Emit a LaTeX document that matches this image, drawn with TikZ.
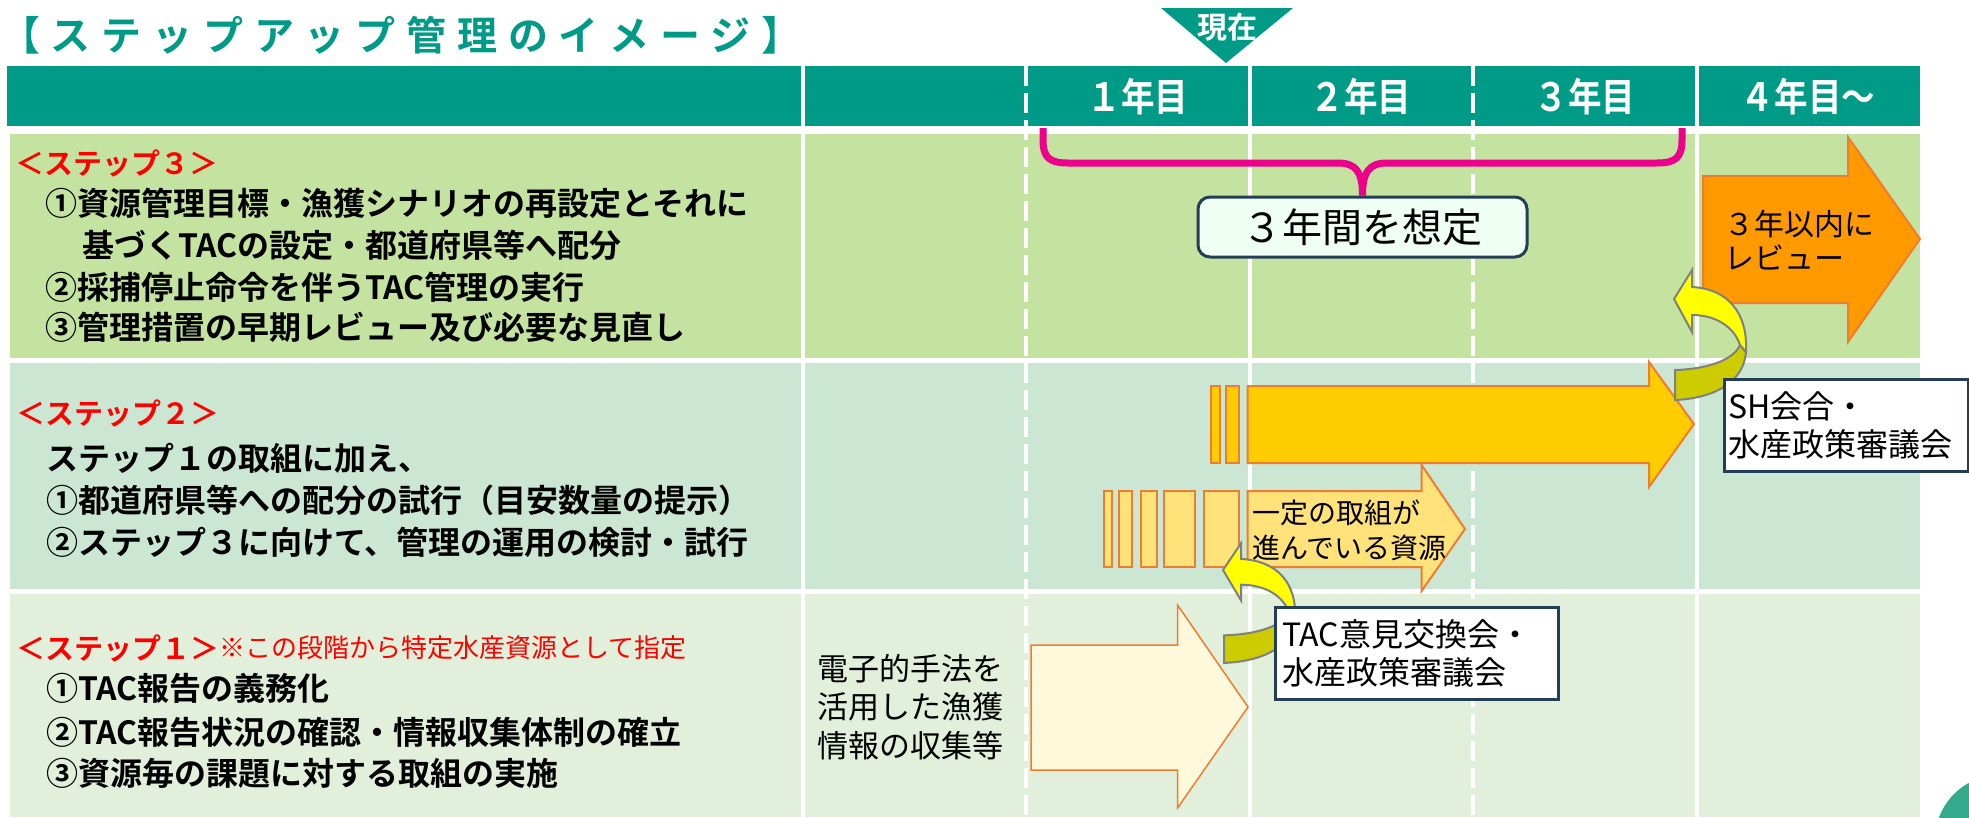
\documentclass[tikz,border=0pt]{standalone}
\usepackage{fontspec}
\setmainfont{Noto Sans CJK JP}[BoldFont={Noto Sans CJK JP Bold}]
\newfontfamily\narrowjp{Noto Sans CJK JP Bold}[FakeStretch=0.86]
\usetikzlibrary{positioning}

\definecolor{headteal}{RGB}{0,155,135}
\definecolor{stepthree}{RGB}{197,227,160}
\definecolor{steptwo}{RGB}{203,231,212}
\definecolor{stepone}{RGB}{226,239,218}
\definecolor{arrowline}{RGB}{237,125,49}
\definecolor{reviewfill}{RGB}{255,153,0}
\definecolor{mainfill}{RGB}{255,204,0}
\definecolor{partfill}{RGB}{255,226,122}
\definecolor{creamfill}{RGB}{255,249,219}
\definecolor{bentolive}{RGB}{204,204,0}
\definecolor{bentyellow}{RGB}{255,255,0}
\definecolor{bentline}{RGB}{128,128,128}
\definecolor{boxline}{RGB}{36,62,88}
\definecolor{spanfill}{RGB}{240,255,244}
\definecolor{markteal}{RGB}{52,170,140}

\tikzset{
  colline/.style={white, line width=4pt},
  coldash/.style={white, line width=3.5pt, dash pattern=on 20pt off 7pt},
  yearlabel/.style={text=white, font=\narrowjp\fontsize{39}{44}\selectfont},
  steplabel/.style={anchor=west, inner sep=0pt, text=red,
    font=\bfseries\fontsize{29}{34}\selectfont},
  stepitem/.style={anchor=west, inner sep=0pt,
    font=\bfseries\fontsize{32}{38}\selectfont},
  plaintext/.style={anchor=west, inner sep=0pt, align=left},
  blockarrow/.style={draw=arrowline, line width=2pt, line join=miter},
  infobox/.style={draw=boxline, fill=white, line width=3pt, anchor=north west,
    inner ysep=0pt, align=left, font=\fontsize{32}{38}\selectfont},
  bentarrow/.pic={
    \path[fill=bentolive, draw=bentline, line width=2pt]
      (66,46) -- (72,53) .. controls (70,80) and (45,99) .. (1,101)
      -- (1,71) .. controls (36,70) and (60,60) .. (66,46) -- cycle;
    \path[fill=bentyellow, draw=bentline, line width=2pt]
      (0,0) -- (18,-29) -- (18,-12) .. controls (55,-10) and (74,15) .. (72,53)
      -- (66,46) .. controls (60,28) and (42,16) .. (18,16) -- (18,33) -- cycle;
  }
}

\begin{document}
\begin{tikzpicture}[x=1pt,y=-1pt]
  \useasboundingbox (0,0) rectangle (1969,817);
  \clip (0,0) rectangle (1969,817);

  % title
  \node[anchor=west, inner sep=0pt, text=headteal,
    font=\bfseries\fontsize{40}{46}\selectfont\addfontfeature{LetterSpace=27}]
    (title) at (0,35) {【ステップアップ管理のイメージ】};

  % header bar and rows
  \fill[headteal] (7,66) rectangle (1920,126);
  \fill[stepthree] (10,134) rectangle (1920,358);
  \fill[steptwo] (10,363) rectangle (1920,589);
  \fill[stepone] (10,594) rectangle (1920,817);
  \foreach \x in {803,1250,1697}
    \draw[colline] (\x,66) -- (\x,817);
  \foreach \x in {1026,1473}
    \draw[coldash] (\x,66) -- (\x,817);
  \fill[markteal] (2000,840) circle (65);

  % now marker
  \fill[headteal] (1161,8) -- (1293,8) -- (1226,63) -- cycle;
  \node[text=white, font=\bfseries\fontsize{30}{34}\selectfont] (now) at (1227,27) {現在};

  % years
  \path
    (1138,97) node[yearlabel] (year1) {１年目}
    (1361,97) node[yearlabel] (year2) {２年目}
    (1585,97) node[yearlabel] (year3) {３年目}
    (1808,97) node[yearlabel] (year4) {４年目～};

  % step 3
  \node[steplabel] (s3label) at (15,163) {＜ステップ３＞};
  \path
    (45,203) node[stepitem] (s3a) {①資源管理目標・漁獲シナリオの再設定とそれに}
    (82,245) node[stepitem] (s3b) {基づくTACの設定・都道府県等へ配分}
    (45,287) node[stepitem] (s3c) {②採捕停止命令を伴うTAC管理の実行}
    (45,327) node[stepitem] (s3d) {③管理措置の早期レビュー及び必要な見直し};

  % step 2
  \node[steplabel] (s2label) at (16,413) {＜ステップ２＞};
  \path
    (46,458) node[stepitem] (s2a) {ステップ１の取組に加え、}
    (46,500) node[stepitem] (s2b) {①都道府県等への配分の試行（目安数量の提示）}
    (46,542) node[stepitem] (s2c) {②ステップ３に向けて、管理の運用の検討・試行};

  % step 1
  \node[steplabel] (s1label) at (16,648) {＜ステップ１＞};
  \node[plaintext, text=red, font=\fontsize{26}{30}\selectfont, right=0pt of s1label]
    (s1note) {※この段階から特定水産資源として指定};
  \path
    (46,688) node[stepitem] (s1a) {①TAC報告の義務化}
    (46,732) node[stepitem] (s1b) {②TAC報告状況の確認・情報収集体制の確立}
    (46,773) node[stepitem] (s1c) {③資源毎の課題に対する取組の実施};
  \node[plaintext, font=\fontsize{31}{38.5}\selectfont] (ejournal) at (817,707)
    {電子的手法を\\活用した漁獲\\情報の収集等};

  % arrows
  \draw[blockarrow, line width=1.5pt, fill=creamfill]
    (1031,645) -- (1177.5,645) -- (1177.5,605) -- (1248,707)
    -- (1177.5,808) -- (1177.5,770) -- (1031,770) -- cycle;
  \foreach \a/\b in {1104/1111.5,1119/1132,1141/1157,1164/1195,1203.6/1239}
    \draw[blockarrow, fill=partfill] (\a,491) rectangle (\b,567);
  \draw[blockarrow, fill=partfill]
    (1247.5,491) -- (1421.6,491) -- (1421.6,465) -- (1465,529)
    -- (1421.6,591) -- (1421.6,567) -- (1247.5,567) -- cycle;
  \node[plaintext, font=\fontsize{28}{35}\selectfont] (advanced) at (1252,530)
    {一定の取組が\\進んでいる資源};
  \foreach \a/\b in {1211/1220,1226/1239}
    \draw[blockarrow, fill=mainfill] (\a,386) rectangle (\b,463);
  \draw[blockarrow, fill=mainfill]
    (1247.5,386) -- (1649,386) -- (1649,362) -- (1694,424)
    -- (1649,487) -- (1649,463) -- (1247.5,463) -- cycle;
  \draw[blockarrow, fill=reviewfill]
    (1703,176) -- (1848,176) -- (1848,137) -- (1920,239)
    -- (1848,342) -- (1848,303) -- (1703,303) -- cycle;
  \node[plaintext, font=\fontsize{30}{34}\selectfont] (review) at (1724,240)
    {３年以内に\\レビュー};

  % bent arrows and boxes
  \pic at (1674,299) {bentarrow};
  \pic[yscale=0.92] at (1223,570) {bentarrow};
  \node[infobox, inner xsep=4pt, text width=236pt, minimum height=92pt]
    (shbox) at (1723,378) {SH会合・\\水産政策審議会};
  \node[infobox, inner xsep=7pt, text width=269pt, minimum height=92pt]
    (tacbox) at (1273.6,606) {TAC意見交換会・\\水産政策審議会};

  % three year span
  \node[draw=boxline, fill=spanfill, line width=3pt, rounded corners=12pt,
    minimum width=329pt, minimum height=60pt, font=\fontsize{40}{44}\selectfont]
    (span) at (1362.5,227) {３年間を想定};
  \draw[magenta, line width=7pt]
    (1043,128) -- (1043,140) .. controls (1043,158) and (1050,163) .. (1068,163)
    -- (1338,163) .. controls (1356,163) and (1362.5,172) .. (span.north);
  \draw[magenta, line width=7pt]
    (1682,128) -- (1682,140) .. controls (1682,158) and (1675,163) .. (1657,163)
    -- (1387,163) .. controls (1369,163) and (1362.5,172) .. (span.north);
\end{tikzpicture}
\end{document}
